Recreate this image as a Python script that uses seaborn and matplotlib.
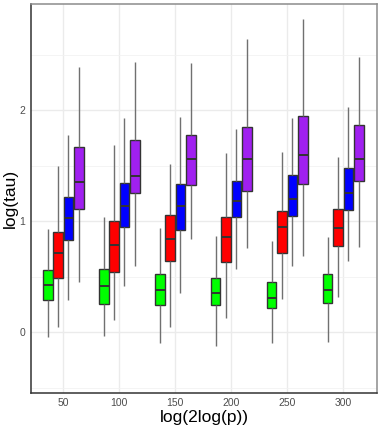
import matplotlib
matplotlib.use("Agg")
import matplotlib.pyplot as plt
import seaborn as sns
import pandas as pd
from matplotlib.ticker import MultipleLocator

# x positions (log(2log(p)))
x_vals = [50, 100, 150, 200, 250, 300]
groups = ["g1", "g2", "g3", "g4"]
colors = ["#00FF00", "#FF0000", "#0000FF", "#A020F0"]

# five-number summaries per box: (whisker low, Q1, median, Q3, whisker high)
green = [(-0.045, 0.291, 0.423, 0.561, 0.928),
         (-0.033, 0.255, 0.414, 0.573, 1.042),
         (-0.094, 0.243, 0.384, 0.528, 0.937),
         (-0.126, 0.243, 0.357, 0.492, 0.870),
         (-0.094, 0.216, 0.309, 0.456, 0.823),
         (-0.085, 0.261, 0.380, 0.525, 0.856)]
red = [(0.045, 0.489, 0.714, 0.906, 1.498),
       (0.111, 0.546, 0.789, 1.003, 1.690),
       (0.050, 0.640, 0.838, 1.054, 1.519),
       (0.126, 0.631, 0.856, 1.039, 1.613),
       (0.297, 0.714, 0.951, 1.090, 1.627),
       (0.321, 0.777, 0.942, 1.108, 1.582)]
blue = [(0.291, 0.832, 1.027, 1.219, 1.777),
        (0.420, 0.952, 1.138, 1.348, 1.931),
        (0.354, 0.922, 1.141, 1.333, 1.937),
        (0.568, 1.039, 1.186, 1.366, 1.832),
        (0.600, 1.050, 1.204, 1.414, 1.928),
        (0.645, 1.102, 1.258, 1.477, 2.032)]
purple = [(0.450, 1.114, 1.354, 1.667, 2.387),
          (0.597, 1.255, 1.411, 1.730, 2.432),
          (0.843, 1.330, 1.561, 1.777, 2.423),
          (0.762, 1.273, 1.559, 1.847, 2.645),
          (0.690, 1.333, 1.600, 1.949, 2.820),
          (0.771, 1.366, 1.559, 1.865, 2.477)]

rows = []
for g, series in zip(groups, [green, red, blue, purple]):
    for x, stats in zip(x_vals, series):
        for v in stats:
            rows.append({"x": x, "group": g, "tau": v})
df = pd.DataFrame(rows)

sns.set_theme(style="white")
plt.rcParams["font.family"] = ["Liberation Sans", "DejaVu Sans"]

fig = plt.figure(figsize=(3.81, 4.28), dpi=100)
ax = fig.add_axes([30.7 / 381, 1 - 392.7 / 428, (377.3 - 30.7) / 381, (392.7 - 4) / 428])

sns.boxplot(data=df, x="x", y="tau", hue="group", hue_order=groups,
            palette=colors, native_scale=True, width=0.74, gap=0.08,
            whis=(0, 100), showfliers=False, showcaps=False, legend=False,
            linecolor="#333333", linewidth=1.0, saturation=1,
            whiskerprops=dict(color="#707070", linewidth=1.0),
            medianprops=dict(color="#333333", linewidth=1.4),
            boxprops=dict(edgecolor="#333333", linewidth=1.0),
            ax=ax, zorder=3)

ax.set_xlim(20.9, 330.4)
ax.set_ylim(-0.544, 2.958)
ax.set_xticks(x_vals)
ax.set_xticklabels([str(v) for v in x_vals])
ax.yaxis.set_major_locator(MultipleLocator(1))
ax.yaxis.set_minor_locator(MultipleLocator(0.5))
ax.set_yticks([0, 1, 2])
ax.set_yticklabels(["0", "1", "2"])

ax.grid(True, which="major", color="#EBEBEB", linewidth=1.0, zorder=0)
ax.grid(True, which="minor", axis="y", color="#F2F2F2", linewidth=0.6, zorder=0)
ax.set_axisbelow(True)

ax.tick_params(axis="both", which="both", length=0, labelsize=7.5,
               labelcolor="#4D4D4D", pad=4)

for side in ["left", "bottom"]:
    ax.spines[side].set_color("#333333")
    ax.spines[side].set_linewidth(1.1)
for side in ["top", "right"]:
    ax.spines[side].set_color("#8C8C8C")
    ax.spines[side].set_linewidth(1.1)

ax.set_xlabel("log(2log(p))", fontsize=12.5, color="black", labelpad=1)
ax.set_ylabel("log(tau)", fontsize=12.5, color="black", labelpad=1)

fig.savefig("out.png", dpi=100)
